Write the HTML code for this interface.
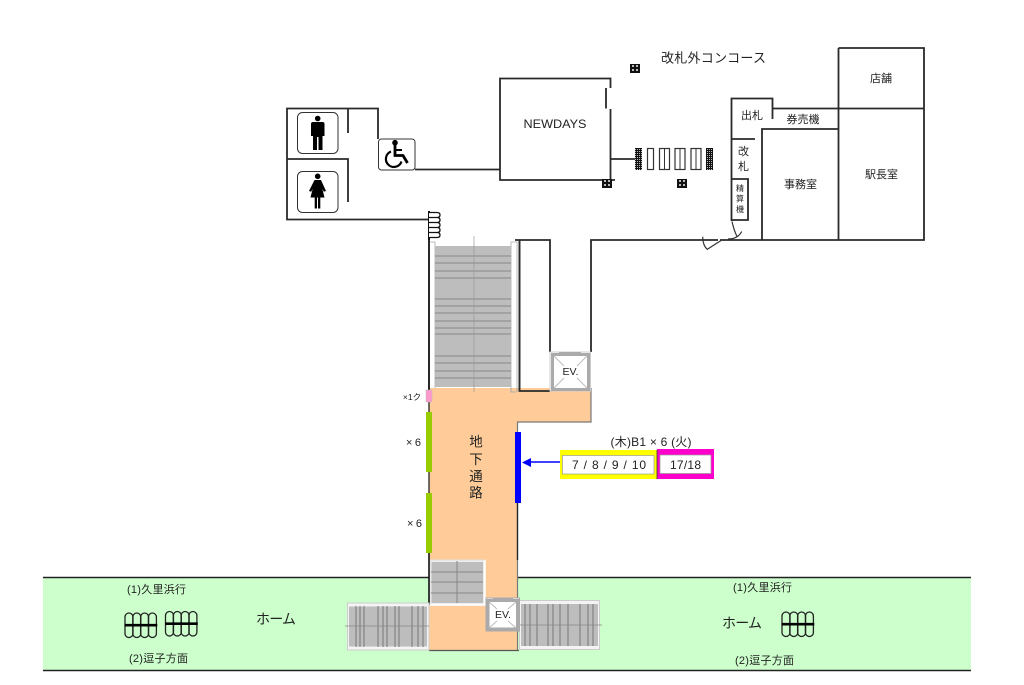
<!DOCTYPE html>
<html><head><meta charset="utf-8"><style>
html,body{margin:0;padding:0;background:#fff}
svg{display:block}
text{font-family:"Liberation Sans","Noto Sans CJK JP",sans-serif;fill:#222;text-anchor:middle}
.w{stroke:#2a2a2a;stroke-width:1.8;fill:none}
.s{stroke:#888;stroke-width:1;fill:none}
.c{fill:none;stroke:#222;stroke-width:1.3}
</style></head><body>
<svg width="1024" height="685" viewBox="0 0 1024 685" xmlns="http://www.w3.org/2000/svg">
<defs>
<pattern id="d" width="2" height="2" patternUnits="userSpaceOnUse"><rect width="2" height="2" fill="#111"/><rect x="1" y="1" width="1" height="1" fill="#bbb"/></pattern>
<g id="sq"><rect width="10" height="9" fill="#111"/><rect x="2" y="1" width="2" height="2" fill="#bbb"/><rect x="6" y="1" width="2" height="2" fill="#bbb"/><rect x="2" y="5" width="2" height="2" fill="#bbb"/><rect x="6" y="5" width="2" height="2" fill="#bbb"/></g>
<g id="coil"><rect x="0" y="0" width="8" height="24.5" rx="4" class="c"/><rect x="7.800" y="0" width="8" height="24.5" rx="4" class="c"/><rect x="15.600" y="0" width="8" height="24.5" rx="4" class="c"/><rect x="23.400" y="0" width="8" height="24.5" rx="4" class="c"/><path d="M-0.500 12.200H32.300" stroke="#000" stroke-width="2.600"/></g>
</defs>

<!-- platform -->
<rect x="43" y="577.5" width="928" height="93" fill="#ccffcc"/>
<path d="M43 577.500H429M518 577.500H971M43 670.500H971" stroke="#222" stroke-width="1.500" fill="none"/>

<!-- orange corridor -->
<path d="M429 388H591V422H517.500V650.500H429Z" fill="#ffcc99"/>
<path d="M591 388V422H517.500V650.500" stroke="#777" stroke-width="1.200" fill="none"/>
<path d="M429 650.500H519" stroke="#555" stroke-width="1.200" fill="none"/>
<path d="M517.500 503V560" stroke="#222" stroke-width="1.300" fill="none"/>
<path d="M429 402V412M429 472V493" stroke="#222" stroke-width="1.300" fill="none"/>

<!-- toilets -->
<path class="w" d="M378 139V108.500H287V219.500H429M348 108.500V133M287 159H348V202M415 169.500H500"/>
<rect x="297.500" y="112.500" width="40.500" height="41" rx="5" fill="#fff" stroke="#333"/>
<rect x="297.500" y="171.500" width="40.500" height="41" rx="5" fill="#fff" stroke="#333"/>
<rect x="378.500" y="139" width="36.500" height="31" rx="3" fill="#fff" stroke="#333"/>
<circle cx="317.700" cy="118.500" r="2.800" fill="#000"/>
<path d="M313 122h9.500q2 0 2 2V136h-2V150h-4V137h-1.500V150h-4V136h-2V124q0-2 2-2Z" fill="#000"/>
<circle cx="317.700" cy="176.300" r="2.800" fill="#000"/>
<path d="M314.500 180h6.500l5 11-2.200.8-1.500-3 2.200 8.700h-4.200v11h-2.300v-11h-1v11h-2.300v-11H310.500l2.200-8.700-1.500 3-2.200-.8Z" fill="#000"/>
<circle cx="395" cy="142.700" r="2.800" fill="#000"/>
<path d="M395 145v10.500h8l4.500 7.500" fill="none" stroke="#000" stroke-width="2.800"/>
<path d="M395 150h7" stroke="#000" stroke-width="2"/>
<path d="M391 151.500a8 8 0 1 0 10.500 10" fill="none" stroke="#000" stroke-width="2.200"/>
<path d="M429 211V240" stroke="#111" stroke-width="2"/>
<path d="M429 212.500h8q3 0 3 2.500t-3 2.500h-8M429 217.500h8q3 0 3 2.500t-3 2.500h-8M429 222.500h8q3 0 3 2.500t-3 2.500h-8M429 227.500h8q3 0 3 2.500t-3 2.500h-8M429 232.500h8q3 0 3 2.500t-3 2.500h-8" fill="#fff" stroke="#111" stroke-width="1.300"/>

<!-- newdays -->
<path class="w" d="M610.500 88V78.500H500V180H615M610.500 109V180M606 88V108.500M610.500 159H635"/>

<!-- gates -->
<rect x="635" y="148" width="7" height="22" fill="url(#d)"/>
<rect x="647.500" y="148.500" width="6" height="21" fill="#fff" stroke="#333" stroke-width="1.200"/>
<rect x="659.500" y="148.500" width="10" height="21" fill="#fff" stroke="#333" stroke-width="1.200"/><path d="M664.500 148.500v21" stroke="#333"/>
<rect x="675" y="148.500" width="10" height="21" fill="#fff" stroke="#333" stroke-width="1.200"/><path d="M680 148.500v21" stroke="#333"/>
<rect x="691" y="148.500" width="10" height="21" fill="#fff" stroke="#333" stroke-width="1.200"/><path d="M696 148.500v21" stroke="#333"/>
<rect x="706" y="148" width="7" height="22" fill="url(#d)"/>
<use href="#sq" x="630" y="64"/><use href="#sq" x="602" y="179"/><use href="#sq" x="677" y="179"/>

<!-- offices -->
<path class="w" d="M772.500 119V98.500H731.500V221M731.500 139H755M731.500 179H748V220H731.500M772.500 108.500H924M838.500 48H924V240H720M718 240H591V352M838.500 48V240M762 240V129H838.500"/>
<path d="M732 221.500q2 9 5 15M728 239q10 0 13.700-7.500M702.700 236.700q0 9 5 13M707 249.500l14-9" fill="none" stroke="#333" stroke-width="1.200"/>

<!-- upper walls -->
<path d="M429 240V390" stroke="#111" stroke-width="1.800"/>
<path class="w" d="M515 240H550V352M519.500 240V391H550"/>

<!-- main stair -->
<path d="M430.500 242H435V388M511 388V242H517V388" stroke="#bbb" fill="#fff" stroke-width="1"/>
<rect x="435" y="246" width="76" height="141" fill="#bdbdbd"/>
<path class="s" d="M435 256H511M435 263H511M435 271H511M435 278H511M435 299H511M435 306H511M435 313H511M435 321H511M435 328H511M435 334H511M435 356H511M435 363H511M435 371H511M435 378H511"/>
<path d="M474 236V392" stroke="#999" stroke-width="1" opacity=".7"/>
<path d="M511 388v4h5M517 388v4" stroke="#aaa" fill="none"/>
<path class="w" d="M519.500 240V391"/>

<!-- EV top -->
<rect x="550" y="352" width="40.500" height="39" fill="#fff" stroke="#ccc"/>
<rect x="552.500" y="354.500" width="36" height="35" fill="#fff" stroke="#aaa" stroke-width="3"/>
<path d="M554 356L564 366M587 356L577 366M554 388L564 378M587 388L577 378" stroke="#bbb" stroke-width="1"/>
<rect x="559" y="352" width="22" height="2.500" fill="#aaa"/>

<!-- equipment bars -->
<rect x="426" y="390" width="6" height="12" fill="#ff99cc" stroke="#bbb" stroke-width=".5"/>
<rect x="426" y="412" width="6" height="60" fill="#99cc00"/>
<rect x="426" y="493" width="6" height="60" fill="#99cc00"/>
<rect x="515" y="432" width="6" height="71" fill="#0000ff"/>

<!-- arrow & boxes -->
<path d="M560 462H528" stroke="#0000ff" stroke-width="1.500"/>
<path d="M522 462.500L531 458V467Z" fill="#0000ff"/>
<path d="M560 450h97v29h-97Z" fill="#ffff00"/>
<path d="M657 449H714V479H657Z" fill="#ff00cc"/>
<rect x="562.500" y="455.500" width="91.500" height="18.500" fill="#fff" stroke="#999" stroke-width=".7"/>
<rect x="660" y="455" width="51" height="18.500" fill="#fff" stroke="#999" stroke-width=".7"/>
<path d="M657 450V479" stroke="#333" stroke-width=".8"/>

<!-- centre stair -->
<rect x="430" y="560" width="55" height="45.500" fill="#eee" stroke="#ddd"/>
<rect x="431.500" y="562" width="51.500" height="41" fill="#bdbdbd"/>
<path class="s" d="M431 572H483M431 582H483M431 593H483M457 561V603"/>
<path d="M429 605H485V560" stroke="#fff" stroke-width="1.500" fill="none"/>
<path d="M429 553V605" stroke="#111" stroke-width="1.600" fill="none"/>

<!-- left stair -->
<rect x="347.500" y="603" width="81.500" height="47" fill="#f4f4f4" stroke="#ccc"/>
<rect x="349" y="606.500" width="78" height="40" fill="#bdbdbd"/>
<path d="M356 606V647M360 606V647M364 606V647M378 606V647M383 606V647M387 606V647M395 606V647M399 606V647M412 606V647M418 606V647M423 606V647" stroke="#777" stroke-width="1" fill="none"/>
<path d="M345 626H429" stroke="#888" stroke-width=".7"/>

<!-- right stair -->
<rect x="519.500" y="600.500" width="80" height="49" fill="#f4f4f4" stroke="#ccc"/>
<rect x="521" y="604" width="77" height="42" fill="#bdbdbd"/>
<path d="M525 604V646M530 604V646M537 604V646M548 604V646M553 604V646M560 604V646M568 604V646M580 604V646M588 604V646M593 604V646" stroke="#777" stroke-width="1" fill="none"/>
<path d="M519 625H602" stroke="#888" stroke-width=".7"/>

<!-- EV bottom -->
<rect x="486" y="598" width="33.500" height="33" fill="#fff" stroke="#aaa" stroke-width="1"/>
<rect x="488" y="600.500" width="29.500" height="28.500" fill="#fff" stroke="#aaa" stroke-width="3"/>
<path d="M489 602L497 609M516 602L508 609M489 628L497 621M516 628L508 621" stroke="#bbb"/>
<rect x="493" y="597.500" width="20" height="2.500" fill="#aaa"/>

<!-- coils -->
<use href="#coil" x="125" y="613"/><use href="#coil" x="165.500" y="611.500"/><use href="#coil" x="782" y="612"/>

<!-- labels -->
<text x="713.500" y="62.500" font-size="13" textLength="105">改札外コンコース</text>
<text x="555" y="128" font-size="12" textLength="63" lengthAdjust="spacingAndGlyphs">NEWDAYS</text>
<text x="881" y="82" font-size="11">店舗</text>
<text x="803" y="123" font-size="11">券売機</text>
<text x="752" y="119" font-size="11">出札</text>
<text x="743.500" y="155" font-size="11">改</text>
<text x="743.500" y="170" font-size="11">札</text>
<text x="740" y="191" font-size="8">精</text>
<text x="740" y="201.500" font-size="8">算</text>
<text x="740" y="212" font-size="8">機</text>
<text x="800.500" y="188" font-size="11">事務室</text>
<text x="881.500" y="178" font-size="11">駅長室</text>
<text x="570.500" y="375" font-size="10.500">EV.</text>
<text x="503" y="618" font-size="10.500">EV.</text>
<text x="412" y="400" font-size="8.500">×1ク</text>
<text x="413.500" y="446" font-size="11" textLength="15">×6</text>
<text x="414.500" y="527" font-size="11" textLength="15">×6</text>
<text x="476" y="446.500" font-size="13.500">地</text>
<text x="476" y="464" font-size="13.500">下</text>
<text x="476" y="481" font-size="13.500">通</text>
<text x="476" y="497.500" font-size="13.500">路</text>
<text x="651" y="446" font-size="12" textLength="81">(木)B1 × 6 (火)</text>
<text x="609" y="469" font-size="12" textLength="74">7 / 8 / 9 / 10</text>
<text x="685.500" y="469" font-size="12" textLength="31">17/18</text>
<text x="156.500" y="593" font-size="11" textLength="59">(1)久里浜行</text>
<text x="158.500" y="662" font-size="11" textLength="59">(2)逗子方面</text>
<text x="276" y="624" font-size="14" textLength="40">ホーム</text>
<text x="762.500" y="591" font-size="11" textLength="59">(1)久里浜行</text>
<text x="764.500" y="664" font-size="11" textLength="59">(2)逗子方面</text>
<text x="742" y="628" font-size="14" textLength="40">ホーム</text>
</svg>
</body></html>
